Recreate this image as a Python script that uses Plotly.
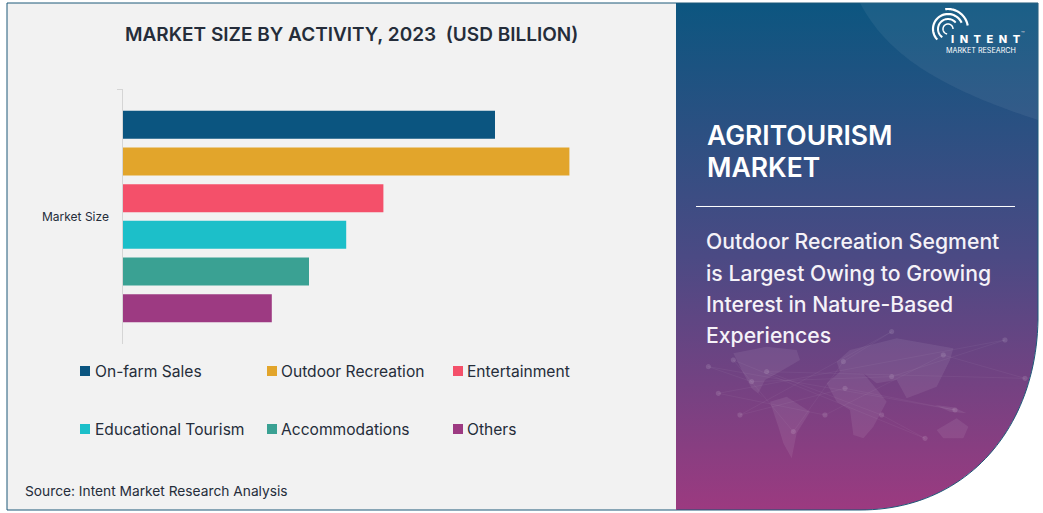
import plotly.graph_objects as go
import numpy as np

CATEGORY = ["Market Size"]
SEGMENTS = ["On-farm Sales", "Outdoor Recreation", "Entertainment",
            "Educational Tourism", "Accommodations", "Others"]
VALUES = [10, 12, 7, 6, 5, 4]
COLORS = ["#0b5580", "#e2a52b", "#f4506a", "#1cbfc9", "#3aa193", "#9d3a82"]
TITLE = "MARKET SIZE BY ACTIVITY, 2023 \u00a0(USD BILLION)"
SOURCE = "Source: Intent Market Research Analysis"
HEAD_LINES = ["AGRITOURISM", "MARKET"]
BODY_LINES = ["Outdoor Recreation Segment", "is Largest Owing to Growing",
              "Interest in Nature-Based", "Experiences"]

W, H = 1043, 513
FONT = "Inter"
DARK = "#252d3a"
EDGE = "#1d5878"

def px(x): return x / W
def py(y): return 1 - y / H

def bez(p0, p1, p2, p3, n=50):
    t = np.linspace(0, 1, n)[:, None]
    p0, p1, p2, p3 = map(np.array, (p0, p1, p2, p3))
    return (1-t)**3*p0 + 3*(1-t)**2*t*p1 + 3*(1-t)*t**2*p2 + t**3*p3

fig = go.Figure()

# bars
for name, val, col in zip(SEGMENTS, VALUES, COLORS):
    fig.add_trace(go.Bar(x=[val], y=CATEGORY, name=name, orientation="h",
                         marker=dict(color=col, line_width=0), showlegend=False,
                         hoverinfo="skip", xaxis="x", yaxis="y"))

# right panel with gradient, on a full canvas pixel axis
curve = bez((1038, 320), (1036, 430), (965, 510), (860, 510))
xs = [676, 1038] + list(curve[:, 0]) + [676, 676]
ys = [3, 3] + list(curve[:, 1]) + [510, 3]
fig.add_trace(go.Scatter(
    x=xs, y=ys, mode="lines", fill="toself", line=dict(color="rgba(0,0,0,0)", width=0),
    fillgradient=dict(type="vertical", start=3, stop=510,
                      colorscale=[[0, "#0c5680"], [0.5, "#4b4a84"], [1, "#9c3a80"]]),
    hoverinfo="skip", showlegend=False, xaxis="x2", yaxis="y2"))

shapes = []
annots = []

def text(x, y, s, size, color=DARK, weight=400, anchor="left"):
    annots.append(dict(x=px(x), y=py(y), xref="paper", yref="paper", text=s, showarrow=False,
                       xanchor=anchor, yanchor="middle", borderpad=0,
                       font=dict(family=FONT, size=size, color=color, weight=weight)))

def rect(x0, y0, x1, y1, fill, line=None, layer="below"):
    shapes.append(dict(type="rect", xref="paper", yref="paper", x0=px(x0), x1=px(x1),
                       y0=py(y0), y1=py(y1), fillcolor=fill, layer=layer,
                       line=dict(width=1 if line else 0, color=line or fill)))

def poly(pts, fill=None, opacity=1, line=None, width=1, closed=True):
    d = "M" + " L".join(f"{px(a):.5f},{py(b):.5f}" for a, b in pts) + (" Z" if closed else "")
    shapes.append(dict(type="path", xref="paper", yref="paper", path=d, layer="above",
                       fillcolor=fill if fill else "rgba(0,0,0,0)", opacity=opacity,
                       line=dict(width=width if line else 0, color=line or "rgba(0,0,0,0)")))

# left panel
rect(7, 3, 677, 510, "#f2f2f2", EDGE)

# panel outline: top, right curve, bottom (no left edge)
poly([(677, 3), (1038, 3)] + [tuple(p) for p in curve] + [(677, 510)], line=EDGE, width=1, closed=False)

# swoosh in top right corner
sw = np.vstack([bez((860, 3), (885, 50), (930, 85), (1038, 120)), [[1038, 3]]])
poly(sw, fill="#ffffff", opacity=0.06)

# faint map
def m(c, r): return (690 + c / 3, 330 + r / 3)
LAND = [
    [(130, 70), (230, 50), (320, 60), (330, 90), (270, 125), (225, 150), (205, 190), (235, 215), (185, 175), (160, 130)],
    [(240, 215), (290, 200), (360, 245), (320, 310), (305, 385), (280, 340), (265, 290)],
    [(410, 160), (450, 125), (520, 130), (570, 190), (590, 215), (550, 290), (520, 325), (490, 315), (480, 240), (440, 215)],
    [(440, 95), (480, 60), (620, 25), (790, 55), (780, 90), (740, 170), (690, 190), (650, 205), (620, 150), (560, 160), (520, 130), (450, 125)],
    [(740, 300), (800, 265), (835, 290), (820, 325), (760, 325)],
    [(735, 225), (790, 232), (830, 250), (780, 245)],
]
for land in LAND:
    poly([m(*p) for p in land], fill="#ffffff", opacity=0.075)
NODES = [(55, 110), (130, 90), (85, 190), (150, 255), (230, 125), (185, 155), (310, 305), (405, 255),
         (465, 175), (575, 255), (605, 140), (460, 95), (760, 75), (795, 240), (705, 325), (945, 30),
         (605, 5), (1005, 145)]
for i, a in enumerate(NODES):
    b = NODES[(i + 5) % len(NODES)]
    poly([m(*a), m(*b)], line="#ffffff", opacity=0.06, width=0.7, closed=False)
    th = np.linspace(0, 2*np.pi, 14)
    ax, ay = m(*a)
    poly(np.c_[ax + 2.6*np.cos(th), ay + 2.6*np.sin(th)], fill="#ffffff", opacity=0.12)

# logo
LOGO_C = (948, 29)
for r, wd, a0, a1 in [(5, 1.5, 100, 360), (10, 2, 125, 320), (15, 2.2, 135, 335), (20, 2.2, 262, 350)]:
    th = np.radians(np.linspace(a0, a1, 40))
    pts = np.c_[LOGO_C[0] + r*np.cos(th), LOGO_C[1] + r*np.sin(th)]
    poly(pts, line="#ffffff", width=wd, closed=False)

text(950, 38.5, "I\u2002N\u2002T\u2002E\u2002N\u2002T", 11, "#ffffff", 800)
text(945, 50, "MARKET RESEARCH", 7.2, "#ffffff", 400)
text(1020, 33, "\u2122", 6, "#dddddd")

# titles
text(351, 34, TITLE, 19, DARK, 600, "center")
text(110, 216, CATEGORY[0], 12, DARK, 400, "right")
text(24, 491, SOURCE, 13.75, DARK, 400)

# legend
LEG_X = [80, 267, 453]
LEG_TEXT_X = [94, 280, 466]
LEG_Y = [371, 429]
for i, (name, col) in enumerate(zip(SEGMENTS, COLORS)):
    lx, ly = LEG_X[i % 3], LEG_Y[i // 3]
    rect(lx, ly - 5, lx + 10, ly + 5, col)
    text(LEG_TEXT_X[i % 3], ly, name, 15.6, DARK)

# right text
for i, s in enumerate(HEAD_LINES):
    text(705.5, [135, 167][i], s, 26.5, "#ffffff", 600)
poly([(696, 206.5), (1015, 206.5)], line="#ffffff", width=1, closed=False)
for s, y in zip(BODY_LINES, [241, 273, 304, 335]):
    text(705, y, s, 21.2, "#f5f2f8", 500)

PLOT_L, PLOT_T, PLOT_B = 123, 89, 344
fig.update_layout(
    width=W, height=H, autosize=False, margin=dict(l=0, r=0, t=0, b=0),
    paper_bgcolor="#ffffff", plot_bgcolor="rgba(0,0,0,0)",
    barmode="group", bargap=0.137, bargroupgap=0.235,
    shapes=shapes, annotations=annots, showlegend=False,
    xaxis=dict(domain=[px(PLOT_L), px(PLOT_L + 37.2*13)], range=[0, 13], visible=False, fixedrange=True),
    yaxis=dict(domain=[py(PLOT_B), py(PLOT_T)], type="category", autorange="reversed",
               showticklabels=False, ticks="outside", ticklen=5, tickwidth=1, tickcolor="#d5d5d5",
               tickson="boundaries", showline=True, linecolor="#d5d5d5", linewidth=1,
               showgrid=False, zeroline=False, fixedrange=True),
    xaxis2=dict(domain=[0, 1], range=[0, W], visible=False, fixedrange=True, anchor="y2"),
    yaxis2=dict(domain=[0, 1], range=[H, 0], visible=False, fixedrange=True, anchor="x2"),
)

fig.write_html("out.html", config={"displayModeBar": False},
               post_script="document.body.style.margin='0';document.body.style.overflow='hidden';")
